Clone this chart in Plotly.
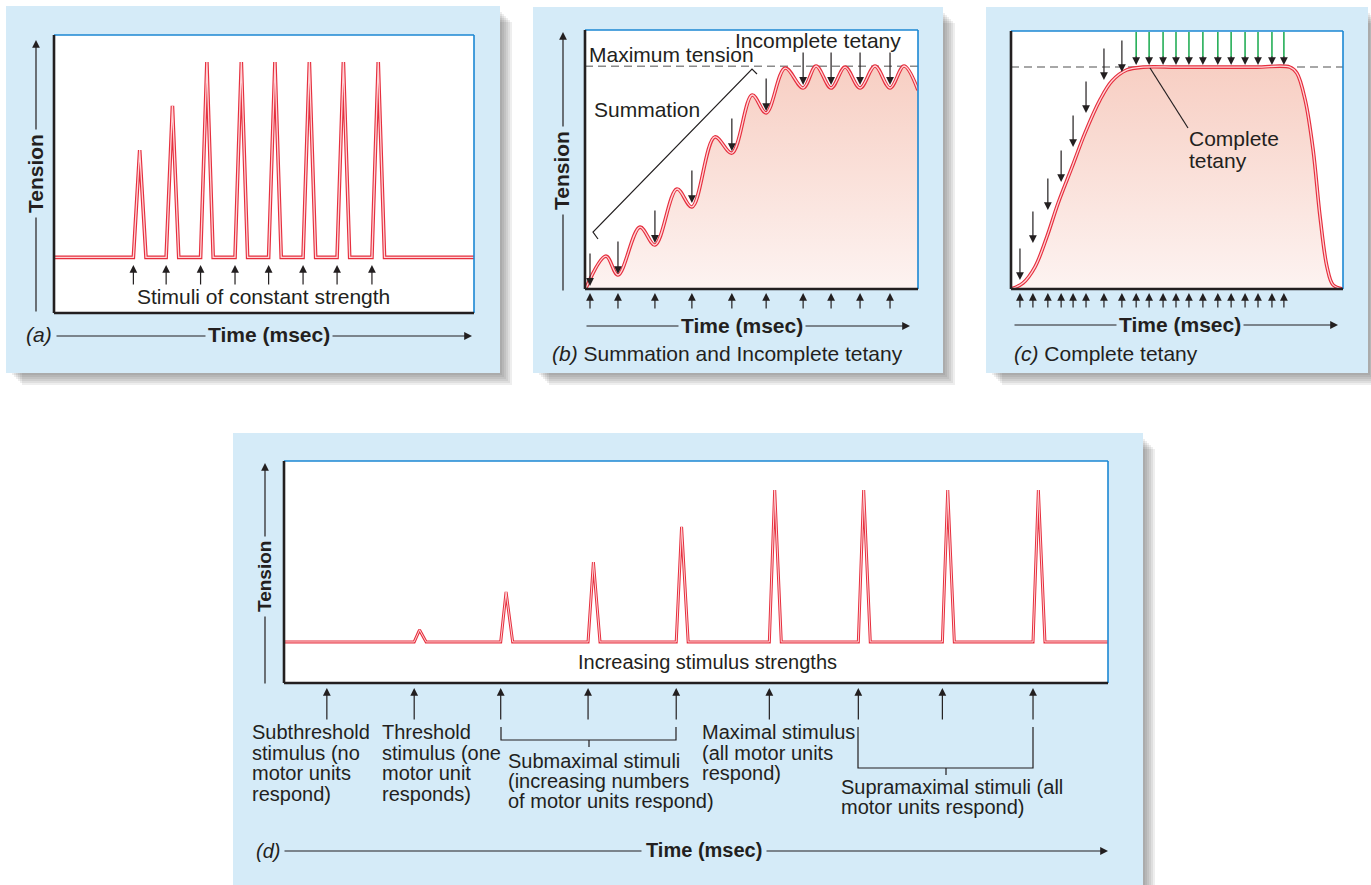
import plotly.graph_objects as go

W, H = 1371, 885


def px(x):
    return x / W


def py(y):
    return 1 - y / H


FONT = "Liberation Sans, Arial, Helvetica, sans-serif"
INK = "#231f20"
PANEL_BG = "#d5ebf8"
EDGE_BLUE = "#1b87d3"
RED = "#e62f3e"
RED_CORE = "#ffd5d8"
GREEN = "#16a94c"
DASH_GRAY = "#8a8a8a"
FILL_SCALE = [[0, "#fdf3f1"], [1, "#f7cdc1"]]

# ---------------- (a) stimuli of constant strength ----------------
stim_a = [18.9, 26.7, 34.9, 43.1, 51.1, 59.3, 67.4, 75.7]
peak_a = [58.6, 74.5, 90.3, 90.3, 90.3, 90.3, 90.3, 90.3]
rest_a = 20.0

# ---------------- (b) summation and incomplete tetany ----------------
time_b = [0.3, 6.3, 9.9, 16.5, 21.0, 27.6, 32.1, 39.0, 44.1, 50.2, 54.4,
          60.1, 65.5, 69.4, 73.9, 78.1, 82.6, 87.1, 91.6, 95.8, 100.0]
tension_b = [0.4, 12.7, 5.4, 23.9, 17.0, 38.6, 31.7, 58.7, 52.5, 74.9, 68.0,
             85.3, 77.6, 86.1, 77.6, 85.7, 77.6, 86.1, 77.6, 86.1, 76.8]
stim_b = [1.5, 9.9, 21.0, 32.1, 44.1, 54.4, 65.5, 73.9, 82.6, 91.6]
stim_tip_b = [1.2, 5.8, 17.8, 33.2, 53.3, 68.7, 78.8, 78.8, 78.8, 78.8]
max_tension = 86.0

# ---------------- (c) complete tetany ----------------
time_c = [0.0, 3.6, 7.2, 10.8, 14.2, 18.4, 22.3, 26.8, 30.4, 34.9, 39.8,
          50.0, 62.0, 74.0, 84.0, 86.1, 88.6, 91.0, 93.1, 95.2, 97.0, 100.0]
tension_c = [0.0, 2.3, 8.5, 20.2, 33.3, 47.3, 60.5, 73.3, 80.6, 84.9, 86.0,
             86.0, 86.0, 86.0, 86.0, 83.7, 73.3, 53.9, 27.9, 8.5, 1.6, 0.0]
stim_c = [2.7, 6.6, 11.1, 15.1, 18.7, 22.6, 28.0, 33.4, 37.7, 41.6,
          45.8, 49.7, 53.6, 57.8, 62.3, 66.3, 70.5, 74.4, 78.6, 82.2]
stim_tip_c = [3.5, 17.8, 30.6, 41.5, 55.0, 68.2, 81.0, 84.1,
              86.8, 86.8, 86.8, 86.8, 86.8, 86.8, 86.8, 86.8, 86.8, 86.8, 86.8, 86.8]
n_rising_c = 8  # stimuli delivered while tension is still climbing

# ---------------- (d) increasing stimulus strengths ----------------
stim_d = [5.2, 15.8, 26.3, 36.9, 47.6, 58.9, 69.7, 79.9, 90.9]
peak_d = [18.5, 23.9, 41.0, 54.5, 70.3, 86.9, 86.9, 86.9, 86.9]
rest_d = 18.5

# panel boxes in page pixels: (left, top, right, bottom)
PANEL_BOX = {"a": (6, 6, 500, 373), "b": (533, 7, 943, 373),
             "c": (986, 7, 1368, 373), "d": (233, 433, 1143, 885)}
PLOT_BOX = {"a": (54, 35, 474, 313), "b": (585, 30, 918, 289),
            "c": (1011, 31, 1343, 289), "d": (284, 461, 1108, 683)}
AXES = {"a": ("x", "y"), "b": ("x2", "y2"), "c": ("x3", "y3"), "d": ("x4", "y4")}


def twitch_series(stims, peaks, rest, rise, fall):
    xs, ys = [0.0], [rest]
    for s, p in zip(stims, peaks):
        if p <= rest:
            continue
        xs += [s, s + rise, s + rise + fall]
        ys += [rest, p, rest]
    xs.append(100.0)
    ys.append(rest)
    return xs, ys


fig = go.Figure()


def add_curve(key, xs, ys, shape="linear", width=3.6, core=1.3, fill=False):
    xa, ya = AXES[key]
    if fill:
        fig.add_trace(go.Scatter(
            x=xs, y=ys, mode="lines", line=dict(width=0, shape=shape),
            fill="tozeroy",
            fillgradient=dict(type="vertical", colorscale=FILL_SCALE, start=0, stop=90),
            xaxis=xa, yaxis=ya, hoverinfo="skip"))
    fig.add_trace(go.Scatter(x=xs, y=ys, mode="lines",
                             line=dict(color=RED, width=width, shape=shape),
                             xaxis=xa, yaxis=ya, hoverinfo="skip"))
    fig.add_trace(go.Scatter(x=xs, y=ys, mode="lines",
                             line=dict(color=RED_CORE, width=core, shape=shape),
                             xaxis=xa, yaxis=ya, hoverinfo="skip"))


xa_, ya_ = twitch_series(stim_a, peak_a, rest_a, 1.5, 1.5)
add_curve("a", xa_, ya_)
add_curve("b", time_b, tension_b, shape="spline", fill=True)
add_curve("c", time_c, tension_c, shape="spline", fill=True)
xd_, yd_ = twitch_series(stim_d, peak_d, rest_d, 0.65, 0.8)
add_curve("d", xd_, yd_, width=3.0, core=1.0)

shapes = []
annotations = []

# panel shadows, backgrounds and white plotting areas
for key, (l, t, r, b) in PANEL_BOX.items():
    for d in (2, 4, 6, 8, 10, 12):
        shapes.append(dict(type="rect", xref="paper", yref="paper", layer="below",
                           x0=px(l + d + 4), x1=px(r + d), y0=py(b + d), y1=py(t + d + 4),
                           line=dict(width=0), fillcolor="rgba(60,60,60,0.085)"))
    shapes.append(dict(type="rect", xref="paper", yref="paper", layer="below",
                       x0=px(l), x1=px(r), y0=py(b), y1=py(t),
                       line=dict(width=0), fillcolor=PANEL_BG))
for key, (l, t, r, b) in PLOT_BOX.items():
    shapes.append(dict(type="rect", xref="paper", yref="paper", layer="below",
                       x0=px(l), x1=px(r), y0=py(b), y1=py(t),
                       line=dict(width=0), fillcolor="white"))
    # frame: thin blue top/right, heavy black left/bottom
    shapes.append(dict(type="line", xref="paper", yref="paper", x0=px(l), x1=px(r),
                       y0=py(t), y1=py(t), line=dict(color=EDGE_BLUE, width=1.6)))
    shapes.append(dict(type="line", xref="paper", yref="paper", x0=px(r), x1=px(r),
                       y0=py(t), y1=py(b), line=dict(color=EDGE_BLUE, width=1.6)))
    shapes.append(dict(type="line", xref="paper", yref="paper", x0=px(l), x1=px(l),
                       y0=py(t), y1=py(b), line=dict(color=INK, width=2.6)))
    shapes.append(dict(type="line", xref="paper", yref="paper", x0=px(l), x1=px(r),
                       y0=py(b), y1=py(b), line=dict(color=INK, width=2.6)))

# maximum-tension reference lines
for key in ("b", "c"):
    xa, ya = AXES[key]
    shapes.append(dict(type="line", xref=xa, yref=ya, layer="below", x0=0, x1=100,
                       y0=max_tension, y1=max_tension,
                       line=dict(color=DASH_GRAY, width=1.5, dash="8px,5px")))


def arrow(x, y, ax, ay, xref="paper", yref="paper", color=INK, width=1.2, size=1.3):
    annotations.append(dict(x=x, y=y, xref=xref, yref=yref, ax=ax, ay=ay,
                            text="", showarrow=True, arrowhead=2, arrowsize=size,
                            arrowwidth=width, arrowcolor=color, font=dict(size=1)))


def label(text, x, y, size=21, xanchor="left", yanchor="middle", bg=None, angle=0, pad=1):
    ann = dict(x=px(x), y=py(y), xref="paper", yref="paper", text=text,
               showarrow=False, xanchor=xanchor, yanchor=yanchor, textangle=angle,
               font=dict(family=FONT, size=size, color=INK), borderpad=pad)
    if bg:
        ann["bgcolor"] = bg
    annotations.append(ann)


# stimulus markers beneath each trace
for s in stim_a:
    arrow(s, py(265), 0, 21, xref="x")
for s in stim_b:
    arrow(s, py(293), 0, 17, xref="x2")
for s in stim_c:
    arrow(s, py(293), 0, 16, xref="x3")
for s in stim_d:
    arrow(s, py(688), 0, 33, xref="x4")

# stimulus arrows pointing onto the summating curves
for s, tip in zip(stim_b, stim_tip_b):
    arrow(s, tip, 0, -34, xref="x2", yref="y2")
for i, (s, tip) in enumerate(zip(stim_c, stim_tip_c)):
    if i < n_rising_c:
        arrow(s, tip, 0, -33, xref="x3", yref="y3")
    else:
        shapes.append(dict(type="line", xref="x3", yref="y3", x0=s, x1=s,
                           y0=tip + 3.0, y1=99.6, line=dict(color=GREEN, width=1.5)))
        arrow(s, tip, 0, -10, xref="x3", yref="y3")

# axis arrows
for x, top, bottom in ((36, 40, 313), (563, 32, 292), (265, 463, 685)):
    arrow(px(x), py(top), 0, bottom - top)
for left, right, y in ((55, 472, 336), (585, 910, 326), (1013, 1338, 325), (283, 1108, 851)):
    arrow(px(right), py(y), left - right, 0)

# axis titles
label("<b>Tension</b>", 35, 174, xanchor="center", bg=PANEL_BG, angle=-90, pad=4)
label("<b>Tension</b>", 561, 171, xanchor="center", bg=PANEL_BG, angle=-90, pad=4)
label("<b>Tension</b>", 264, 577, size=19, xanchor="center", bg=PANEL_BG, angle=-90, pad=4)
label("<b>Time (msec)</b>", 269, 335, xanchor="center", bg=PANEL_BG, pad=2)
label("<b>Time (msec)</b>", 742, 325, xanchor="center", bg=PANEL_BG, pad=2)
label("<b>Time (msec)</b>", 1180, 324, xanchor="center", bg=PANEL_BG, pad=2)
label("<b>Time (msec)</b>", 704, 850, size=20, xanchor="center", bg=PANEL_BG, pad=4)

# panel captions
label("<i>(a)</i>", 24, 335)
label("<i>(b)</i> Summation and Incomplete tetany", 550, 353)
label("<i>(c)</i> Complete tetany", 1012, 353)
label("<i>(d)</i>", 254, 851, size=20)

# panel (a) text
label("Stimuli of constant strength", 263, 296, xanchor="center")

# panel (b) text
label("Maximum tension", 587, 54)
label("Incomplete tetany", 733, 40)
label("Summation", 592, 110)
shapes.append(dict(type="path", xref="paper", yref="paper",
                   path=f"M{px(598)},{py(239)} L{px(593)},{py(232)} L{px(752)},{py(69)} L{px(757)},{py(74)}",
                   line=dict(color=INK, width=1.2)))

# panel (c) text
label("Complete", 1187, 138)
label("tetany", 1187, 160)
shapes.append(dict(type="line", xref="paper", yref="paper", x0=px(1150), y0=py(68),
                   x1=px(1188), y1=py(128), line=dict(color=INK, width=1.2)))

# panel (d) text
label("Increasing stimulus strengths", 707, 662, size=20, xanchor="center")
for i, line in enumerate(["Subthreshold", "stimulus (no", "motor units", "respond)"]):
    label(line, 250, 732 + 20.6 * i, size=20)
for i, line in enumerate(["Threshold", "stimulus (one", "motor unit", "responds)"]):
    label(line, 380, 732 + 20.6 * i, size=20)
for i, line in enumerate(["Submaximal stimuli", "(increasing numbers", "of motor units respond)"]):
    label(line, 506, 761 + 20.0 * i, size=20)
for i, line in enumerate(["Maximal stimulus", "(all motor units", "respond)"]):
    label(line, 700, 732 + 20.6 * i, size=20)
for i, line in enumerate(["Supramaximal stimuli (all", "motor units respond)"]):
    label(line, 839, 787 + 20.0 * i, size=20)

# grouping brackets under the stimulus arrows of (d)
shapes.append(dict(type="path", xref="paper", yref="paper",
                   path=f"M{px(501)},{py(727)} V{py(740)} H{px(676)} V{py(727)} M{px(589)},{py(740)} V{py(747)}",
                   line=dict(color=INK, width=1.2)))
shapes.append(dict(type="path", xref="paper", yref="paper",
                   path=f"M{px(858)},{py(727)} V{py(768)} H{px(1033)} V{py(727)} M{px(946)},{py(768)} V{py(775)}",
                   line=dict(color=INK, width=1.2)))

layout_axes = {}
for key, (l, t, r, b) in PLOT_BOX.items():
    xa, ya = AXES[key]
    xname = "xaxis" if xa == "x" else "xaxis" + xa[1:]
    yname = "yaxis" if ya == "y" else "yaxis" + ya[1:]
    layout_axes[xname] = dict(domain=[px(l), px(r)], range=[0, 100], visible=False,
                              fixedrange=True, anchor=ya)
    layout_axes[yname] = dict(domain=[py(b), py(t)], range=[0, 100], visible=False,
                              fixedrange=True, anchor=xa)

fig.update_layout(
    width=W, height=H, margin=dict(l=0, r=0, t=0, b=0),
    paper_bgcolor="white", plot_bgcolor="rgba(0,0,0,0)",
    showlegend=False, shapes=shapes, annotations=annotations,
    font=dict(family=FONT, color=INK),
    **layout_axes,
)

fig.write_html("out.html")
